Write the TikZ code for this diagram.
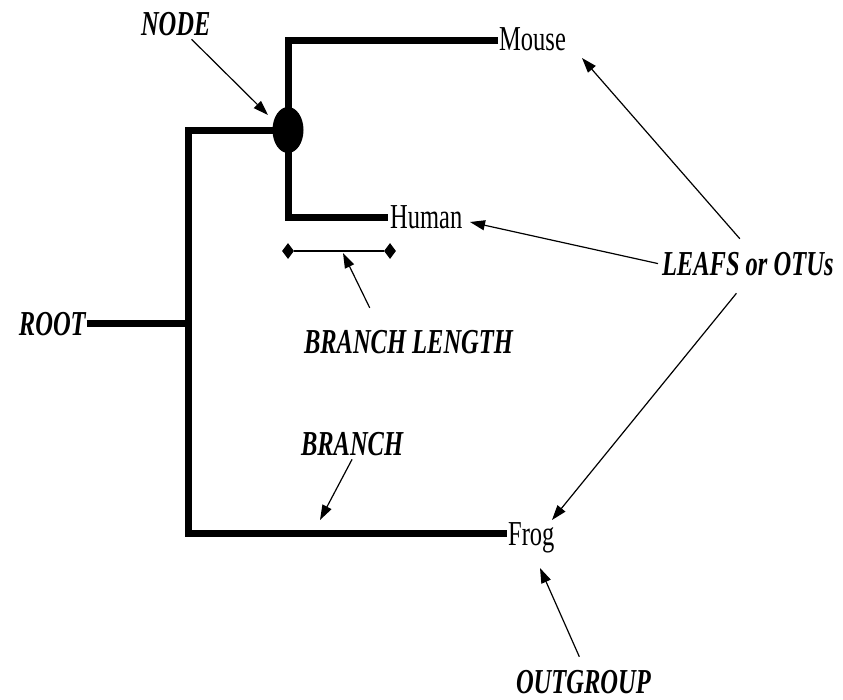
\documentclass[tikz,border=0pt]{standalone}
\usepackage{fontspec}
\newfontfamily\treefont[FakeStretch=0.7]{Liberation Serif}
\usepackage{tikz}
\usetikzlibrary{arrows.meta, positioning, shapes.geometric, calc}

\begin{document}
\begin{tikzpicture}[
  x=1pt, y=-1pt,
  branchline/.style={line width=7pt, line join=miter},
  leaf/.style={anchor=base west, inner sep=0pt, font=\fontsize{35}{37}\selectfont\treefont},
  tag/.style={anchor=base west, inner sep=0pt, outer sep=4pt, font=\fontsize{35}{37}\selectfont\treefont\bfseries\itshape},
  pointer/.style={-{Triangle[length=15pt, width=10pt]}, line width=1.2pt},
  tick/.style={diamond, fill, inner sep=0pt, minimum width=12pt, minimum height=16pt},
]
\useasboundingbox (0,0) rectangle (843,699);

% Tree points
\coordinate (trunktop) at (188,130);
\coordinate (trunkbot) at (188,533);
\coordinate (mousecorner) at (288,40);
\coordinate (humancorner) at (288,217);
\coordinate (mousetip) at (498,40);
\coordinate (humantip) at (388,217);
\coordinate (frogtip) at (507,533);

% Leaf labels
\node[leaf] (mouse) at (499,50) {Mouse};
\node[leaf] (human) at (390,228) {Human};
\node[leaf] (frog) at (508,545) {Frog};

% Root label and branches
\node[tag, outer sep=0pt] (root) at (19,335) {ROOT};
\draw[branchline] ([xshift=1pt]root.east) -- (root.east -| trunktop);
\draw[branchline] (288,130) -- (trunktop) -- (trunkbot) -- (frogtip);
\draw[branchline] (mousetip) -- (mousecorner) -- (humancorner) -- (humantip);

% Internal node
\node[ellipse, fill, inner sep=0pt, minimum width=31pt, minimum height=46pt] (split) at (288,130) {};

% Branch length bar
\node[tick] (bl1) at (288,251) {};
\node[tick] (bl2) at (390,251) {};
\draw[line width=1.3pt] (bl1) -- (bl2);

% Labels
\node[tag] (nodelbl) at (137,35) {NODE};
\node[tag] (lenlbl) at (300,353) {BRANCH LENGTH};
\node[tag] (leafs) at (658,275) {LEAFS or OTUs};
\node[tag] (branchlbl) at (297,455) {BRANCH};
\node[tag] (outgroup) at (512,693) {OUTGROUP};

% Arrow targets
\coordinate (nodetip) at (268,115);
\coordinate (lentip) at (343,253);
\coordinate (mousept) at (582,58);
\coordinate (humanpt) at (470,222);
\coordinate (frogpt) at (552,520);
\coordinate (branchpt) at (320,520);
\coordinate (outpt) at (540,568);

% Arrows
\draw[pointer] (nodelbl) -- (nodetip);
\draw[pointer, shorten <=20pt] (lenlbl.north) ++(-30,0) -- (lentip);
\draw[pointer, shorten <=12pt] (leafs.north) -- (mousept);
\draw[pointer] (leafs.west) -- (humanpt);
\draw[pointer, shorten <=18pt] (leafs.south) -- (frogpt);
\draw[pointer] (branchlbl.south) -- (branchpt);
\draw[pointer, shorten <=10pt] (outgroup.north) -- (outpt);

\end{tikzpicture}
\end{document}
